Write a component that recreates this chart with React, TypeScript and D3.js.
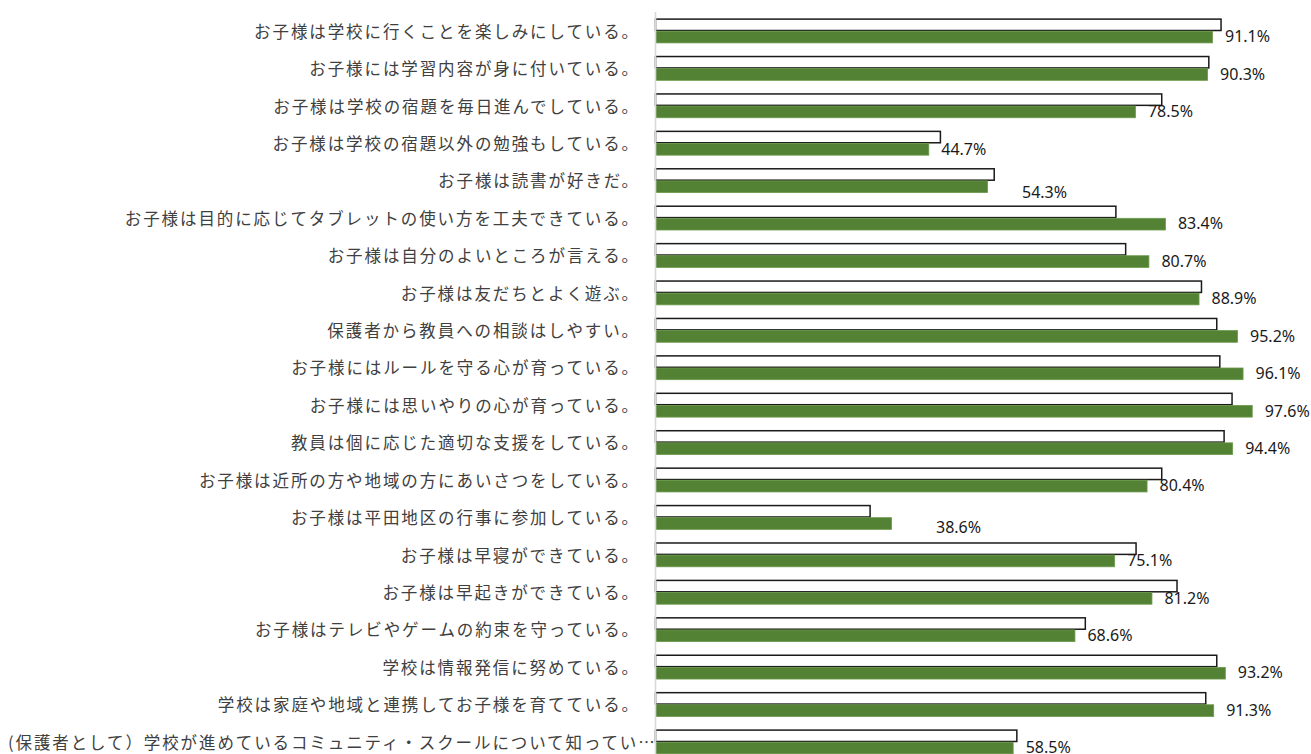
import React, { useEffect, useRef } from "react";
import * as d3 from "d3";

const categories = [
  "お子様は学校に行くことを楽しみにしている。",
  "お子様には学習内容が身に付いている。",
  "お子様は学校の宿題を毎日進んでしている。",
  "お子様は学校の宿題以外の勉強もしている。",
  "お子様は読書が好きだ。",
  "お子様は目的に応じてタブレットの使い方を工夫できている。",
  "お子様は自分のよいところが言える。",
  "お子様は友だちとよく遊ぶ。",
  "保護者から教員への相談はしやすい。",
  "お子様にはルールを守る心が育っている。",
  "お子様には思いやりの心が育っている。",
  "教員は個に応じた適切な支援をしている。",
  "お子様は近所の方や地域の方にあいさつをしている。",
  "お子様は平田地区の行事に参加している。",
  "お子様は早寝ができている。",
  "お子様は早起きができている。",
  "お子様はテレビやゲームの約束を守っている。",
  "学校は情報発信に努めている。",
  "学校は家庭や地域と連携してお子様を育てている。",
  "(保護者として）学校が進めているコミュニティ・スクールについて知ってい…",
];

// previous survey (white, outlined bars)
const previousValues = [
  92.5, 90.5, 82.8, 46.6, 55.4, 75.3, 76.9, 89.3, 91.8, 92.3,
  94.3, 93.0, 82.8, 35.1, 78.6, 85.3, 70.3, 91.8, 90.0, 59.1,
];

// current survey (green bars, labelled)
const currentValues = [
  91.1, 90.3, 78.5, 44.7, 54.3, 83.4, 80.7, 88.9, 95.2, 96.1,
  97.6, 94.4, 80.4, 38.6, 75.1, 81.2, 68.6, 93.2, 91.3, 58.5,
];

const seriesKeys = ["previous", "current"];

// manually moved data labels (as in the original spreadsheet chart)
const labelNudge: Record<number, [number, number]> = {
  4: [22, 6],
  13: [32, 4],
};

const W = 1311;
const H = 754;

export default function App() {
  const ref = useRef<SVGSVGElement | null>(null);

  useEffect(() => {
    const svg = d3.select(ref.current);
    svg.selectAll("*").remove();

    const x0 = 655.5;
    const x = d3.scaleLinear().domain([0, 100]).range([x0, x0 + 611.4]);
    const y = d3
      .scaleBand<string>()
      .domain(categories.map((_, i) => String(i)))
      .range([12, 12 + 37.42 * categories.length])
      .paddingInner(0.348)
      .paddingOuter(0.174);
    const ySub = d3
      .scaleBand<string>()
      .domain(seriesKeys)
      .range([0, y.bandwidth()])
      .padding(0);

    const rows = categories.map((c, i) => ({
      i,
      c,
      prev: previousValues[i],
      cur: currentValues[i],
    }));

    const g = svg.append("g");

    // previous (white outlined)
    g.selectAll("rect.prev")
      .data(rows)
      .join("rect")
      .attr("class", "prev")
      .attr("x", x(0))
      .attr("y", (d) => (y(String(d.i)) as number) + (ySub("previous") as number) + 0.6)
      .attr("width", (d) => x(d.prev) - x(0))
      .attr("height", ySub.bandwidth() - 0.8)
      .attr("fill", "#ffffff")
      .attr("stroke", "#1a1a1a")
      .attr("stroke-width", 1.5);

    // current (green)
    g.selectAll("rect.cur")
      .data(rows)
      .join("rect")
      .attr("class", "cur")
      .attr("x", x(0))
      .attr("y", (d) => (y(String(d.i)) as number) + (ySub("current") as number) + 0.5)
      .attr("width", (d) => x(d.cur) - x(0))
      .attr("height", ySub.bandwidth() - 0.5)
      .attr("fill", "#548235")
      .attr("stroke", "#6b9a4b")
      .attr("stroke-width", 0.8);

    // data labels
    g.selectAll("text.val")
      .data(rows)
      .join("text")
      .attr("class", "val")
      .attr("x", (d) => x(d.cur) + 12.5 + (labelNudge[d.i] ? labelNudge[d.i][0] : 0))
      .attr(
        "y",
        (d) =>
          (y(String(d.i)) as number) +
          (ySub("current") as number) +
          ySub.bandwidth() / 2 -
          0.5 +
          (labelNudge[d.i] ? labelNudge[d.i][1] : 0)
      )
      .attr("dominant-baseline", "central")
      .attr("font-family", "'Noto Sans', sans-serif")
      .attr("font-size", 16)
      .attr("fill", "#1a1a1a")
      .text((d) => `${d.cur.toFixed(1)}%`);

    // category labels
    const labelEnd = 640;
    const minStart = 8;
    const labels = g
      .selectAll("text.cat")
      .data(rows)
      .join("text")
      .attr("class", "cat")
      .attr("x", labelEnd)
      .attr("y", (d) => (y(String(d.i)) as number) + y.bandwidth() / 2)
      .attr("text-anchor", "end")
      .attr("dominant-baseline", "central")
      .attr("font-family", "'Noto Sans CJK JP', sans-serif")
      .attr("font-size", 16.5)
      .attr("letter-spacing", "1.9px")
      .attr("fill", "#404040")
      .text((d) => d.c);

    labels.each(function () {
      const node = this as SVGTextElement;
      const len = node.getComputedTextLength();
      if (labelEnd - len < minStart) {
        d3.select(node).attr("text-anchor", "start").attr("x", minStart);
      }
    });

    // category axis line
    g.append("line")
      .attr("x1", x(0))
      .attr("x2", x(0))
      .attr("y1", 12)
      .attr("y2", H)
      .attr("stroke", "#d9d9d9")
      .attr("stroke-width", 1.6);
  }, []);

  return (
    <svg
      ref={ref}
      width={W}
      height={H}
      style={{ position: "absolute", left: 0, top: 0, display: "block", background: "#fff" }}
    />
  );
}
